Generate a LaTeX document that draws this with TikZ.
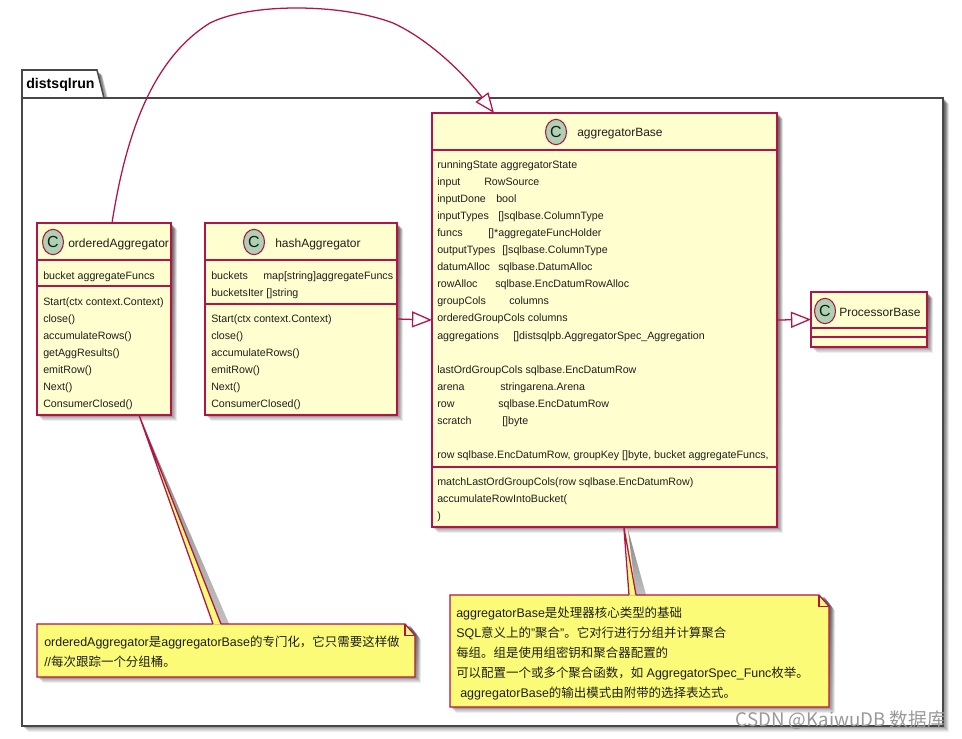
\documentclass[tikz,border=0pt]{standalone}
\usepackage{fontspec}
\setmainfont{Liberation Sans}
\newfontfamily\cjkf{Noto Sans CJK SC}
\newcommand{\zh}[1]{{\cjkf #1}}
\usetikzlibrary{arrows.meta,shapes.geometric,calc}
\definecolor{umlred}{HTML}{B0144A}
\definecolor{umlfill}{HTML}{FEFECE}
\definecolor{notefill}{HTML}{FBFB77}
\definecolor{circfill}{HTML}{ADD1B2}
\definecolor{shade}{HTML}{8A8A8A}
\tikzset{
  x=0.75pt,y=-0.75pt,
  umlline/.style={draw=umlred,line width=0.95pt},
  classbox/.style={umlline,fill=umlfill,anchor=north west,inner sep=0pt,outer sep=0pt},
  pkgline/.style={draw=black!72,line width=1.15pt,line join=miter},
  memb/.style={anchor=base west,inner sep=0pt,font=\fontsize{8pt}{9pt}\selectfont,text=black!88},
  title/.style={anchor=base west,inner sep=0pt,font=\fontsize{9pt}{10pt}\selectfont,text=black!88},
  notetxt/.style={anchor=base west,inner sep=0pt,font=\fontsize{9.35pt}{10pt}\selectfont,text=black!88},
  notebox/.style={anchor=north west,inner sep=0pt,outer sep=0pt,draw=none},
  spot/.style={ellipse,draw=umlred,line width=0.8pt,fill=circfill,minimum width=15.75pt,minimum height=19pt,inner sep=0pt,font=\fontsize{12pt}{12pt}\selectfont,text=black!90},
  gen/.style={umlline,-{Triangle[open,fill=white,length=15pt,width=12pt]}},
}
% soft drop shadow for a rectangle, corners in px
\newcommand{\softshadow}[4]{%
  \foreach \d/\o in {6/0.08,5/0.12,4/0.16,3/0.2,2/0.2}{
    \fill[shade,opacity=\o] (#1+\d,#2+\d) rectangle (#3+\d,#4+\d);
  }}
\newcommand{\classnode}[5]{%
  \softshadow{#2}{#3}{#4}{#5}
  \pgfmathsetmacro{\cw}{0.75*(#4-#2)}\pgfmathsetmacro{\ch}{0.75*(#5-#3)}
  \node[classbox,minimum width=\cw pt,minimum height=\ch pt] (#1) at (#2,#3) {};}
\newcommand{\notenode}[5]{%
  \softshadow{#2}{#3}{#4}{#5}
  \pgfmathsetmacro{\cw}{0.75*(#4-#2)}\pgfmathsetmacro{\ch}{0.75*(#5-#3)}
  \node[notebox,minimum width=\cw pt,minimum height=\ch pt] (#1) at (#2,#3) {};
  \fill[white] ([xshift=-4.5pt]#1.north east) -- ([xshift=5.25pt]#1.north east) -- ([xshift=5.25pt,yshift=-12.75pt]#1.north east) -- cycle;
  \draw[umlline,fill=notefill] (#1.north west) -- ([xshift=-7.5pt]#1.north east) -- ([yshift=-8.5pt]#1.north east) -- (#1.south east) -- (#1.south west) -- cycle;
  \draw[umlline] ([xshift=-7.5pt]#1.north east) -- ([xshift=-7.5pt,yshift=-8.5pt]#1.north east) -- ([yshift=-8.5pt]#1.north east);}
\begin{document}
\begin{tikzpicture}
\useasboundingbox (0,0) rectangle (962,738);
% package
\softshadow{22}{98}{943}{726}
\foreach \d/\o in {5/0.15,4/0.2,3/0.2}{
  \fill[shade,opacity=\o] (22+\d,70+\d) -- (97+\d,70+\d) -- (104+\d,98+\d) -- (22+\d,98+\d) -- cycle;}
\draw[pkgline,fill=white] (22,98) rectangle (943,726);
\draw[pkgline,fill=white] (22,98) -- (22,70) -- (97,70) -- (104,98) -- cycle;
\node[anchor=base west,inner sep=0pt,font=\fontsize{10.6pt}{11pt}\selectfont\bfseries] (pkg) at (26,89) {distsqlrun};

% aggregatorBase
\classnode{base}{432}{113}{777}{527}
\draw[umlline] (432,150) -- (777,150);
\draw[umlline] (432,467) -- (777,467);
\node[spot] (c1) at (556,132) {C};
\node[title] (t1) at (577,137) {aggregatorBase};
\node[memb] (m1) at (437,168) {runningState aggregatorState};
\node[memb] (m2) at (437,185) {input};
\node[memb] (m2b) at (484,185) {RowSource};
\node[memb] (m3) at (437,202) {inputDone};
\node[memb] (m3b) at (496,202) {bool};
\node[memb] (m4) at (437,219) {inputTypes};
\node[memb] (m4b) at (498,219) {[]sqlbase.ColumnType};
\node[memb] (m5) at (437,236) {funcs};
\node[memb] (m5b) at (488,236) {[]*aggregateFuncHolder};
\node[memb] (m6) at (437,253) {outputTypes};
\node[memb] (m6b) at (502,253) {[]sqlbase.ColumnType};
\node[memb] (m7) at (437,270) {datumAlloc};
\node[memb] (m7b) at (498,270) {sqlbase.DatumAlloc};
\node[memb] (m8) at (437,287) {rowAlloc};
\node[memb] (m8b) at (495,287) {sqlbase.EncDatumRowAlloc};
\node[memb] (m9) at (437,304) {groupCols};
\node[memb] (m9b) at (509,304) {columns};
\node[memb] (m10) at (437,321) {orderedGroupCols columns};
\node[memb] (m11) at (437,339) {aggregations};
\node[memb] (m11b) at (513,339) {[]distsqlpb.AggregatorSpec\_Aggregation};
\node[memb] (m12) at (437,373) {lastOrdGroupCols sqlbase.EncDatumRow};
\node[memb] (m13) at (437,390) {arena};
\node[memb] (m13b) at (500,390) {stringarena.Arena};
\node[memb] (m14) at (437,407) {row};
\node[memb] (m14b) at (498,407) {sqlbase.EncDatumRow};
\node[memb] (m15) at (437,424) {scratch};
\node[memb] (m15b) at (502,424) {[]byte};
\node[memb] (m16) at (437,458) {row sqlbase.EncDatumRow, groupKey []byte, bucket aggregateFuncs,};
\node[memb] (m17) at (437,485) {matchLastOrdGroupCols(row sqlbase.EncDatumRow)};
\node[memb] (m18) at (437,502) {accumulateRowIntoBucket(};
\node[memb] (m19) at (437,519) {)};

% ProcessorBase
\classnode{proc}{811}{292}{927}{347}
\draw[umlline] (811,328) -- (927,328);
\draw[umlline] (811,337) -- (927,337);
\node[spot] (c2) at (825,311) {C};
\node[title] (t2) at (839,316) {ProcessorBase};

% orderedAggregator
\classnode{ordered}{37}{223}{171}{415}
\draw[umlline] (37,260) -- (171,260);
\draw[umlline] (37,286) -- (171,286);
\node[spot] (c3) at (53,242) {C};
\node[title] (t3) at (68,247) {orderedAggregator};
\node[memb] (o1) at (43,279) {bucket aggregateFuncs};
\node[memb] (o2) at (43,305) {Start(ctx context.Context)};
\node[memb] (o3) at (43,322) {close()};
\node[memb] (o4) at (43,339) {accumulateRows()};
\node[memb] (o5) at (43,356) {getAggResults()};
\node[memb] (o6) at (43,373) {emitRow()};
\node[memb] (o7) at (43,390) {Next()};
\node[memb] (o8) at (43,407) {ConsumerClosed()};

% hashAggregator
\classnode{hash}{205}{223}{397}{415}
\draw[umlline] (205,260) -- (397,260);
\draw[umlline] (205,304) -- (397,304);
\node[spot] (c4) at (254,242) {C};
\node[title] (t4) at (275,247) {hashAggregator};
\node[memb] (h1) at (211,279) {buckets};
\node[memb] (h1b) at (263,279) {map[string]aggregateFuncs};
\node[memb] (h2) at (211,296) {bucketsIter []string};
\node[memb] (h3) at (211,322) {Start(ctx context.Context)};
\node[memb] (h4) at (211,339) {close()};
\node[memb] (h5) at (211,356) {accumulateRows()};
\node[memb] (h6) at (211,373) {emitRow()};
\node[memb] (h7) at (211,390) {Next()};
\node[memb] (h8) at (211,407) {ConsumerClosed()};

% generalisation connectors
\coordinate (oTop) at ([xshift=6pt]ordered.north);
\coordinate (bTop) at ([xshift=46.5pt]base.north west);
\draw[gen] (oTop) .. controls (125,140) and (150,60) .. (210,23)
  .. controls (250,3) and (340,3) .. (393,23)
  .. controls (430,40) and (465,75) .. (bTop);
\draw[gen] (hash.east) -- (base.west);
\draw[gen] (base.east) -- (proc.west);

% first note
\coordinate (t1a) at ([xshift=-24pt]ordered.south east);
\fill[shade,opacity=0.45] (141,420) -- (220,624) -- (229,624) -- cycle;
\notenode{noteA}{37}{624}{415}{677}
\fill[notefill] (139,416) -- (213,624.6) -- (221,624.6) -- cycle;
\draw[umlline] ($(noteA.north west)+(132pt,0)$) -- (t1a) -- ($(noteA.north west)+(138pt,0)$);
\node[notetxt] (n1) at (44,646) {orderedAggregator\zh{是}aggregatorBase\zh{的专门化，它只需要这样做}};
\node[notetxt] (n2) at (44,666) {//\zh{每次跟踪一个分组桶。}};

% second note
\coordinate (t2a) at ([xshift=14.5pt]base.south);
\fill[shade,opacity=0.45] (628,530) -- (636,595) -- (646,595) -- cycle;
\notenode{noteB}{450}{595}{829}{707}
\fill[notefill] (626,528) -- (629,595.6) -- (636,595.6) -- cycle;
\draw[umlline] ($(noteB.north west)+(134.25pt,0)$) -- (t2a) -- ($(noteB.north west)+(139.5pt,0)$);
\node[notetxt] (n3) at (456,617) {aggregatorBase\zh{是处理器核心类型的基础}};
\node[notetxt] (n4) at (456,637) {SQL\zh{意义上的}"\zh{聚合}"\zh{。它对行进行分组并计算聚合}};
\node[notetxt] (n5) at (456,657) {\zh{每组。组是使用组密钥和聚合器配置的}};
\node[notetxt] (n6) at (456,677) {\zh{可以配置一个或多个聚合函数，如} AggregatorSpec\_Func\zh{枚举。}};
\node[notetxt] (n7) at (460,697) {aggregatorBase\zh{的输出模式由附带的选择表达式。}};
\node[anchor=base east,inner sep=0pt,font=\fontsize{14pt}{15pt}\selectfont\cjkf,text=black!40] (wm) at (946,726) {CSDN @KaiwuDB 数据库};
\end{tikzpicture}
\end{document}
